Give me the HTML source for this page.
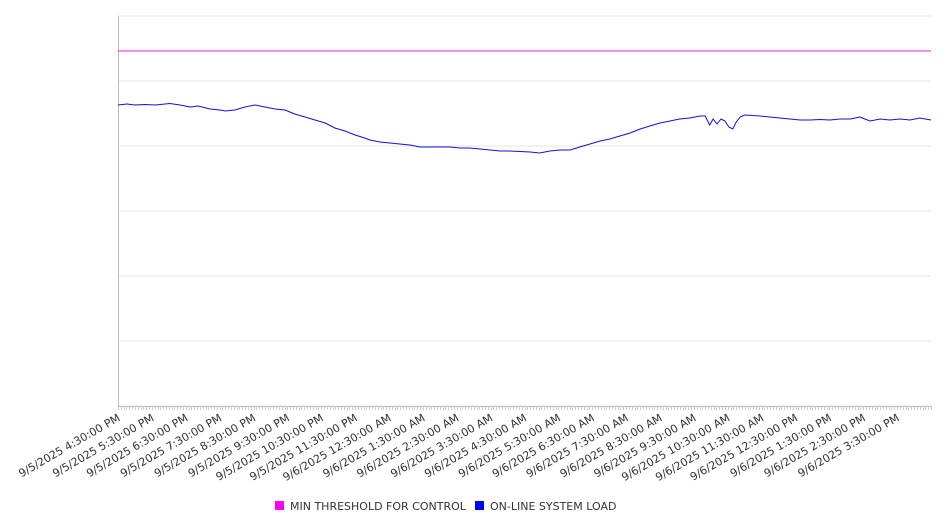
<!DOCTYPE html>
<html><head><meta charset="utf-8"><style>
html,body{margin:0;padding:0;background:#fff;}
svg{display:block;font-family:"DejaVu Sans","Liberation Sans",sans-serif;}
</style></head><body>
<svg id="chart" width="946" height="526" viewBox="0 0 946 526" xmlns="http://www.w3.org/2000/svg">
<g id="grid"></g>
<g id="axes"></g>
<g id="xlabels"></g>
<g id="series"></g>
<g id="legend">
  <rect x="275" y="501" width="9" height="9" fill="#ff00ff"/>
  <text x="290" y="510" font-size="11" fill="#333">MIN THRESHOLD FOR CONTROL</text>
  <rect x="475" y="501" width="9" height="9" fill="#0000ff"/>
  <text x="490" y="510" font-size="11" fill="#333">ON-LINE SYSTEM LOAD</text>
</g>
</svg>
<script>
const tickLabels = ["9/5/2025 4:30:00 PM","9/5/2025 5:30:00 PM","9/5/2025 6:30:00 PM","9/5/2025 7:30:00 PM","9/5/2025 8:30:00 PM","9/5/2025 9:30:00 PM","9/5/2025 10:30:00 PM","9/5/2025 11:30:00 PM","9/6/2025 12:30:00 AM","9/6/2025 1:30:00 AM","9/6/2025 2:30:00 AM","9/6/2025 3:30:00 AM","9/6/2025 4:30:00 AM","9/6/2025 5:30:00 AM","9/6/2025 6:30:00 AM","9/6/2025 7:30:00 AM","9/6/2025 8:30:00 AM","9/6/2025 9:30:00 AM","9/6/2025 10:30:00 AM","9/6/2025 11:30:00 AM","9/6/2025 12:30:00 PM","9/6/2025 1:30:00 PM","9/6/2025 2:30:00 PM","9/6/2025 3:30:00 PM"];
const loadMinutes = [0,16,30,48,66,92,110,128,142,163,181,190,207,225,243,260,278,296,313,331,349,367,384,402,420,437,446,464,482,499,517,535,553,570,588,606,623,641,659,677,694,712,730,747,765,783,801,818,836,854,871,889,907,925,942,960,978,986,995,1013,1031,1040,1048,1054,1061,1068,1075,1082,1089,1095,1102,1110,1137,1155,1172,1190,1208,1226,1243,1261,1279,1297,1314,1323,1332,1350,1367,1385,1403,1420,1440];
const loadValues = [4631,4646,4631,4638,4631,4654,4631,4600,4615,4569,4554,4538,4554,4600,4631,4600,4569,4554,4492,4446,4400,4354,4277,4231,4169,4123,4092,4062,4046,4031,4015,3985,3985,3985,3985,3969,3969,3954,3938,3923,3923,3915,3908,3892,3923,3938,3938,3985,4031,4077,4108,4154,4200,4262,4308,4354,4385,4400,4415,4431,4462,4462,4323,4415,4338,4415,4385,4292,4262,4369,4446,4477,4462,4446,4431,4415,4400,4400,4408,4400,4415,4415,4446,4415,4385,4415,4400,4415,4400,4431,4400];
const thresholdValue = 5462;
const yMax = 6000, yMin = 0, totalMinutes = 1440;

const NS = "http://www.w3.org/2000/svg";
const L = 118, R = 931, T = 16, B = 406;
const xs = m => L + (m / totalMinutes) * (R - L);
const ys = v => B - (v - yMin) / (yMax - yMin) * (B - T);

const grid = document.getElementById('grid');
for (let v = 0; v <= yMax; v += 1000) {
  const ln = document.createElementNS(NS, 'line');
  
  
  ln.setAttribute('x1', L); ln.setAttribute('x2', R);
  ln.setAttribute('y1', ys(v)); ln.setAttribute('y2', ys(v));
  ln.setAttribute('stroke', '#e6e6e6'); ln.setAttribute('stroke-width', '1');
  grid.appendChild(ln);
}
const axes = document.getElementById('axes');
const yAxis = document.createElementNS(NS, 'line');


yAxis.setAttribute('x1', L + 0.5); yAxis.setAttribute('x2', L + 0.5);
yAxis.setAttribute('y1', T); yAxis.setAttribute('y2', B);
yAxis.setAttribute('stroke', '#bbb');
axes.appendChild(yAxis);
const xAxis = document.createElementNS(NS, 'line');


xAxis.setAttribute('x1', L); xAxis.setAttribute('x2', R);
xAxis.setAttribute('y1', B + 0.5); xAxis.setAttribute('y2', B + 0.5);
xAxis.setAttribute('stroke', '#bbb');
axes.appendChild(xAxis);
let tp = '';
for (let m = 0; m <= totalMinutes; m += 5) {
  const x = Math.round(xs(m)) + 0.5;
  tp += `M${x},${B} L${x},${B + 4} `;
}
const ticks = document.createElementNS(NS, 'path');


ticks.setAttribute('d', tp); ticks.setAttribute('stroke', '#ccc'); ticks.setAttribute('stroke-width', '1');
axes.appendChild(ticks);

const xl = document.getElementById('xlabels');
tickLabels.forEach((t, i) => {
  const x = xs(i * 60) + 3;
  const tx = document.createElementNS(NS, 'text');
  
  
  tx.setAttribute('x', x); tx.setAttribute('y', B + 14);
  tx.setAttribute('text-anchor', 'end');
  tx.setAttribute('font-size', '11');
  tx.setAttribute('fill', '#333');
  tx.setAttribute('transform', `rotate(-30 ${x} ${B + 14})`);
  tx.textContent = t;
  xl.appendChild(tx);
});

const series = document.getElementById('series');
const th = document.createElementNS(NS, 'line');


th.setAttribute('x1', L); th.setAttribute('x2', R);
th.setAttribute('y1', ys(thresholdValue)); th.setAttribute('y2', ys(thresholdValue));
th.setAttribute('stroke', '#e020e0'); th.setAttribute('stroke-width', '1');
series.appendChild(th);
const pl = document.createElementNS(NS, 'polyline');


pl.setAttribute('points', loadMinutes.map((m, i) => `${xs(m).toFixed(1)},${ys(loadValues[i]).toFixed(1)}`).join(' '));
pl.setAttribute('fill', 'none'); pl.setAttribute('stroke', '#1010e0'); pl.setAttribute('stroke-width', '1');
series.appendChild(pl);
</script>
</body></html>
